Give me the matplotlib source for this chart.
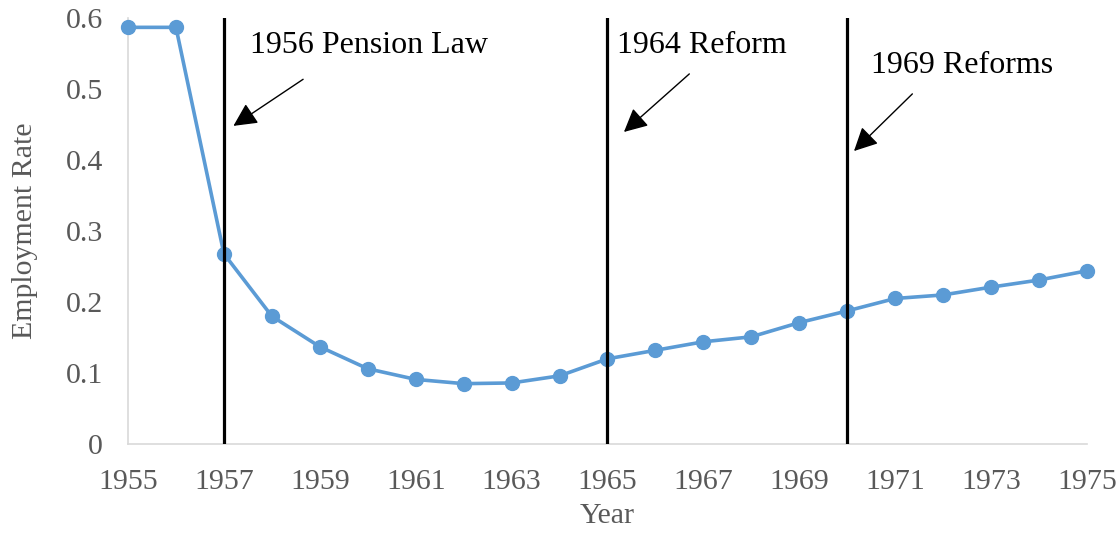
import matplotlib
matplotlib.use('Agg')
import matplotlib.pyplot as plt

# data
years = list(range(1955, 1976))
rate = [0.587, 0.587, 0.268, 0.180, 0.137, 0.106, 0.091, 0.085, 0.086, 0.096,
        0.120, 0.132, 0.144, 0.151, 0.171, 0.1875, 0.205, 0.210, 0.221, 0.231, 0.244]
reform_years = [1957, 1965, 1970]
reform_labels = ['1956 Pension Law', '1964 Reform', '1969 Reforms']
x_ticks = list(range(1955, 1976, 2))
y_ticks = [0, 0.1, 0.2, 0.3, 0.4, 0.5, 0.6]
y_tick_labels = ['0', '0.1', '0.2', '0.3', '0.4', '0.5', '0.6']

plt.rcParams['font.family'] = ['Liberation Serif', 'DejaVu Serif']

fig = plt.figure(figsize=(11.2, 5.33), dpi=100)
ax = fig.add_axes([0.1143, 0.167, 0.8562, 0.799])

ax.plot(years, rate, color='#5B9BD5', lw=2.6, marker='o', markersize=10,
        clip_on=False, zorder=3)

for yr in reform_years:
    ax.axvline(yr, color='black', lw=2.3, zorder=4)

# annotations: text x, text y, arrow tip x, tip y, tail x, tail y (data units)
ann_pos = [(1957.55, 0.551, 1957.15, 0.446, 1958.7, 0.516),
           (1965.2, 0.551, 1965.3, 0.437, 1966.75, 0.524),
           (1970.5, 0.523, 1970.1, 0.41, 1971.4, 0.496)]
for lab, (tx, ty, ax_, ay, sx, sy) in zip(reform_labels, ann_pos):
    ax.text(tx, ty, lab, fontsize=23, ha='left', va='baseline', color='black')
    ax.annotate('', xy=(ax_, ay), xytext=(sx, sy),
                arrowprops=dict(arrowstyle='-|>', color='black', lw=1.0,
                                mutation_scale=36))

ax.set_xlim(1955, 1975)
ax.set_ylim(0, 0.6)
ax.set_xticks(x_ticks)
ax.set_yticks(y_ticks)
ax.set_yticklabels(y_tick_labels)
ax.tick_params(length=0, labelsize=21.5, colors='#595959')
ax.tick_params(axis='x', pad=18)
ax.tick_params(axis='y', pad=18)

for s in ['top', 'right']:
    ax.spines[s].set_visible(False)
ax.spines['left'].set_color('#d9d9d9')
ax.spines['bottom'].set_color('#d9d9d9')
ax.spines['left'].set_linewidth(1.2)
ax.spines['bottom'].set_linewidth(1.2)

ax.set_xlabel('Year', fontsize=21.5, color='#595959', labelpad=6)
ax.set_ylabel('Employment Rate', fontsize=21.5, color='#595959', labelpad=20)

plt.savefig('out.png', dpi=100)
